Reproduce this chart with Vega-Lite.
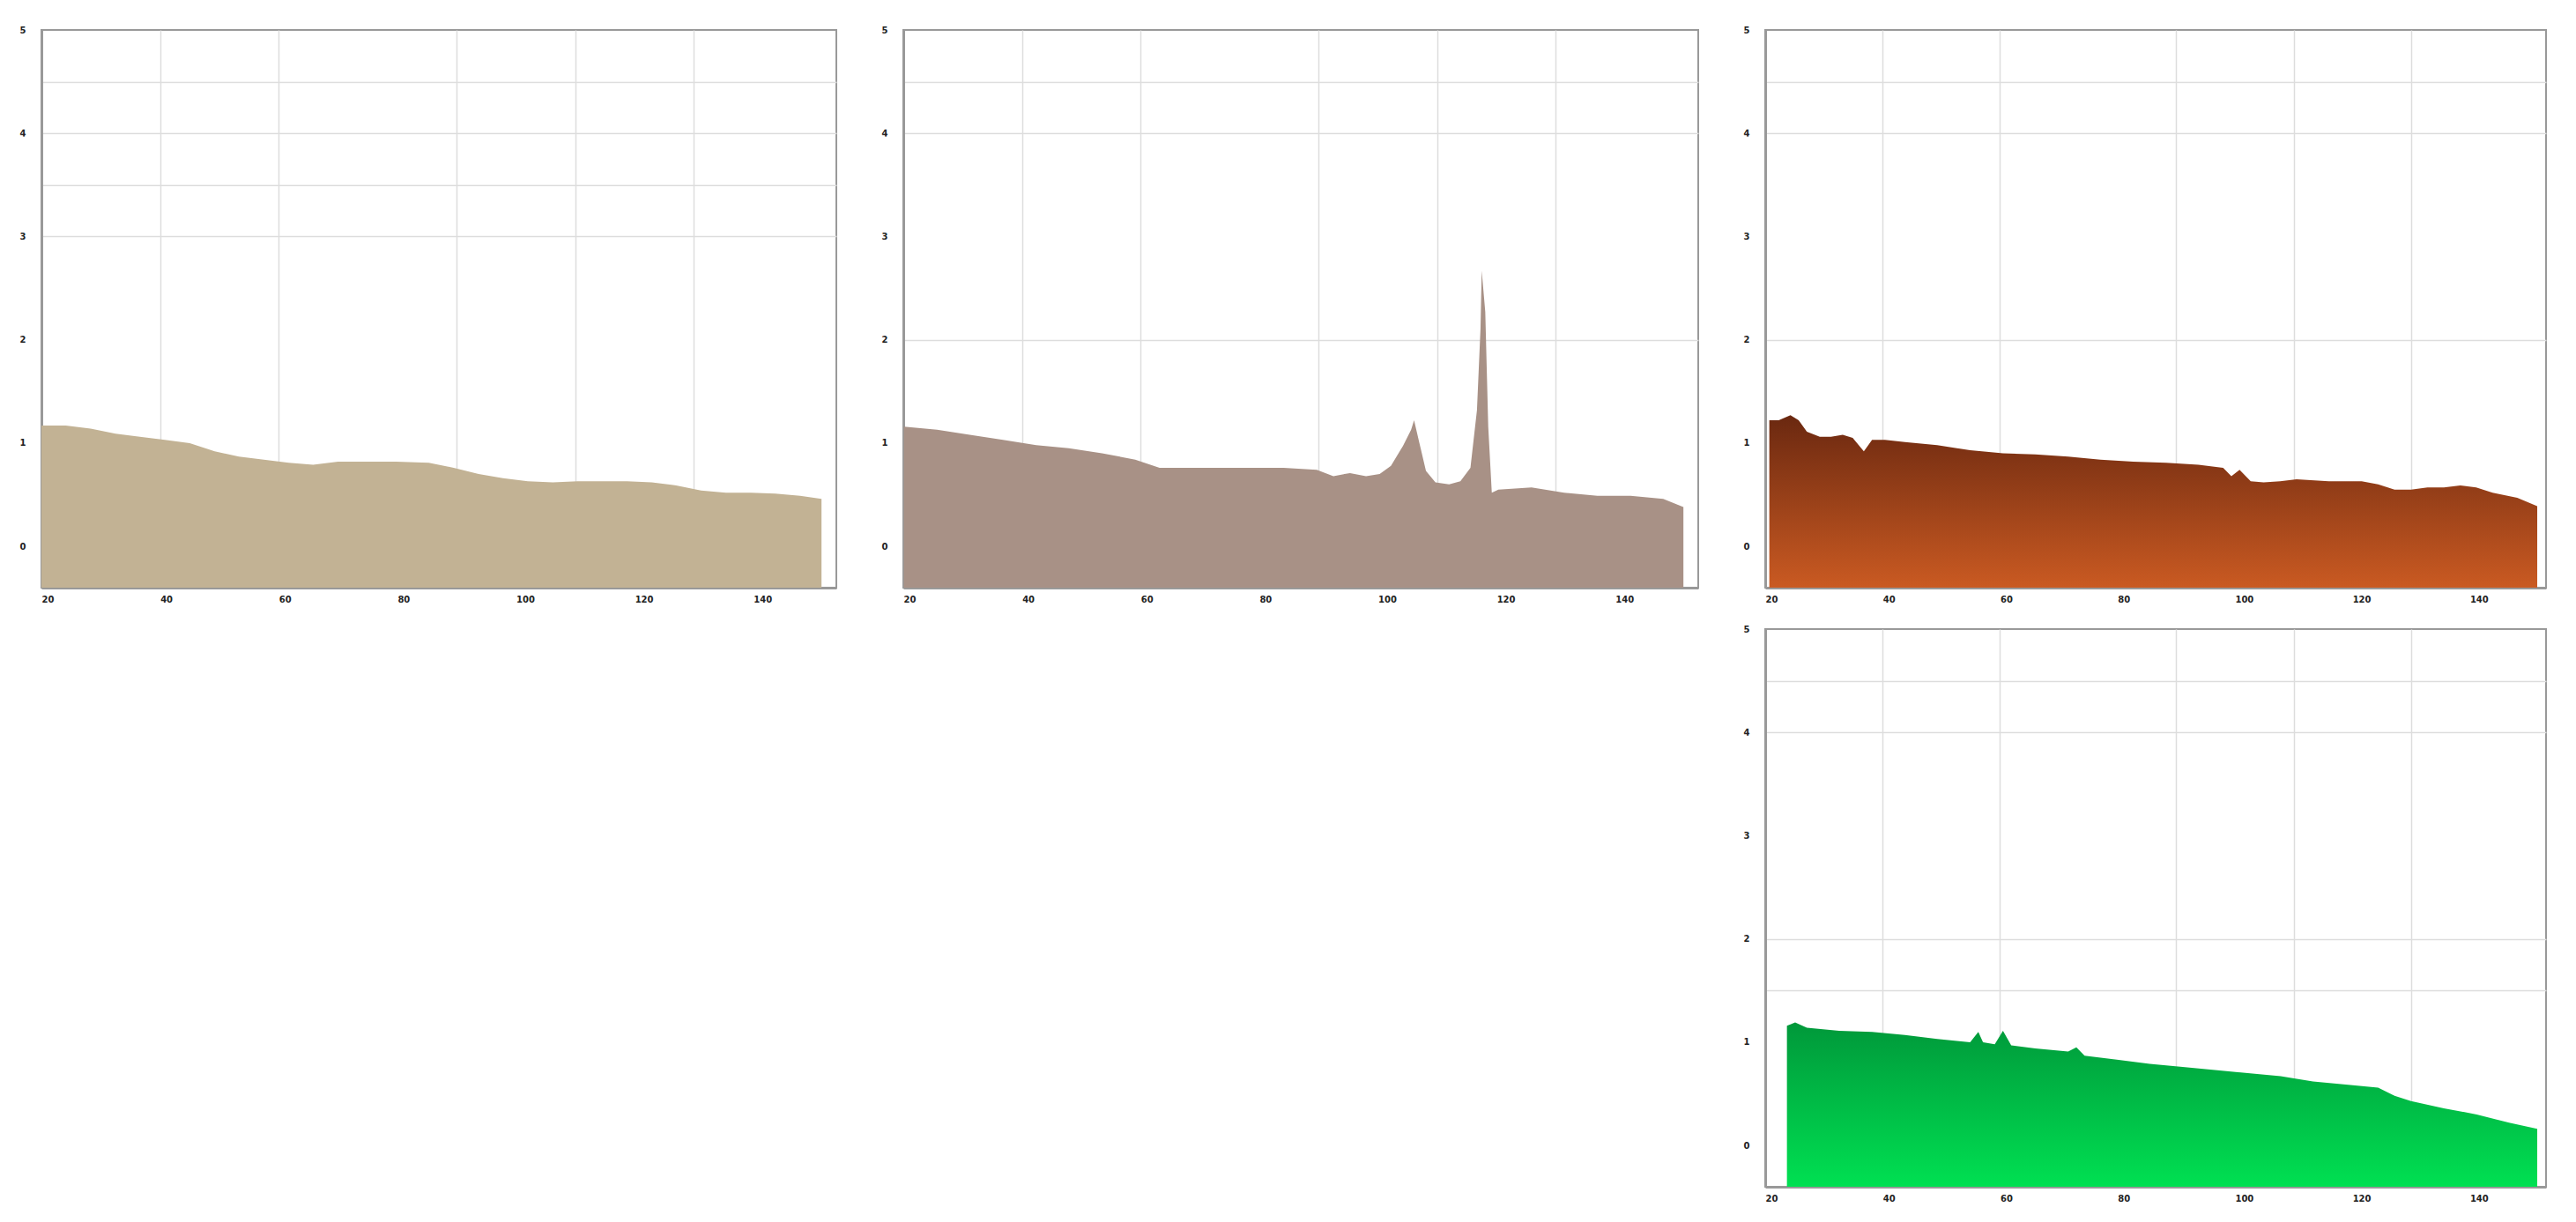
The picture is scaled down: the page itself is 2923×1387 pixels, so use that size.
{
  "$schema": "https://vega.github.io/schema/vega-lite/v6.json",
  "background": "white",
  "padding": {"left": 21, "top": 28, "right": 5, "bottom": 5},
  "bounds": "flush",
  "spacing": 76,
  "datasets": {
    "p1": [
      {"x": 20, "y": 1.17}, {"x": 24.1, "y": 1.17}, {"x": 28.3, "y": 1.14}, {"x": 32.5, "y": 1.09},
      {"x": 36.6, "y": 1.06}, {"x": 40.8, "y": 1.03}, {"x": 45.0, "y": 1.0}, {"x": 49.2, "y": 0.92},
      {"x": 53.3, "y": 0.87}, {"x": 57.5, "y": 0.84}, {"x": 61.7, "y": 0.81}, {"x": 65.8, "y": 0.79},
      {"x": 70.0, "y": 0.82}, {"x": 74.2, "y": 0.82}, {"x": 79.8, "y": 0.82}, {"x": 85.3, "y": 0.81},
      {"x": 89.5, "y": 0.76}, {"x": 93.7, "y": 0.7}, {"x": 97.8, "y": 0.66}, {"x": 102.0, "y": 0.63},
      {"x": 106.2, "y": 0.62}, {"x": 110.4, "y": 0.63}, {"x": 114.5, "y": 0.63}, {"x": 118.7, "y": 0.63},
      {"x": 122.9, "y": 0.62}, {"x": 127.0, "y": 0.59}, {"x": 131.2, "y": 0.54}, {"x": 135.4, "y": 0.52},
      {"x": 139.6, "y": 0.52}, {"x": 143.7, "y": 0.51}, {"x": 147.9, "y": 0.49}, {"x": 151.5, "y": 0.46}
    ],
    "p2": [
      {"x": 20.1, "y": 1.16}, {"x": 25.7, "y": 1.13}, {"x": 31.2, "y": 1.08}, {"x": 36.8, "y": 1.03},
      {"x": 42.4, "y": 0.98}, {"x": 47.9, "y": 0.95}, {"x": 53.5, "y": 0.9}, {"x": 59.1, "y": 0.84},
      {"x": 63.2, "y": 0.76}, {"x": 67.4, "y": 0.76}, {"x": 73.0, "y": 0.76}, {"x": 78.5, "y": 0.76},
      {"x": 84.1, "y": 0.76}, {"x": 89.7, "y": 0.74}, {"x": 92.5, "y": 0.68}, {"x": 95.3, "y": 0.71},
      {"x": 98.0, "y": 0.68}, {"x": 100.3, "y": 0.7}, {"x": 102.2, "y": 0.78}, {"x": 104.2, "y": 0.97},
      {"x": 105.6, "y": 1.13}, {"x": 106.1, "y": 1.22}, {"x": 107.0, "y": 1.0}, {"x": 108.1, "y": 0.73},
      {"x": 109.7, "y": 0.62}, {"x": 112.0, "y": 0.6}, {"x": 113.9, "y": 0.63}, {"x": 115.6, "y": 0.76},
      {"x": 116.7, "y": 1.32}, {"x": 117.3, "y": 2.11}, {"x": 117.5, "y": 2.67}, {"x": 118.1, "y": 2.27},
      {"x": 118.6, "y": 1.16}, {"x": 119.2, "y": 0.52}, {"x": 120.3, "y": 0.55}, {"x": 125.9, "y": 0.57},
      {"x": 131.4, "y": 0.52}, {"x": 137.0, "y": 0.49}, {"x": 142.6, "y": 0.49}, {"x": 148.1, "y": 0.46},
      {"x": 151.5, "y": 0.38}
    ],
    "p3": [
      {"x": 20.7, "y": 1.22}, {"x": 22.3, "y": 1.22}, {"x": 24.3, "y": 1.27}, {"x": 25.7, "y": 1.22},
      {"x": 27.1, "y": 1.11}, {"x": 29.3, "y": 1.06}, {"x": 31.2, "y": 1.06}, {"x": 33.2, "y": 1.08},
      {"x": 34.9, "y": 1.05}, {"x": 36.8, "y": 0.92}, {"x": 38.2, "y": 1.03}, {"x": 40.4, "y": 1.03},
      {"x": 43.8, "y": 1.01}, {"x": 49.3, "y": 0.98}, {"x": 54.9, "y": 0.93}, {"x": 60.5, "y": 0.9},
      {"x": 66.0, "y": 0.89}, {"x": 71.6, "y": 0.87}, {"x": 77.1, "y": 0.84}, {"x": 82.7, "y": 0.82},
      {"x": 88.3, "y": 0.81}, {"x": 93.8, "y": 0.79}, {"x": 98.0, "y": 0.76}, {"x": 99.4, "y": 0.68},
      {"x": 100.8, "y": 0.74}, {"x": 102.7, "y": 0.63}, {"x": 104.9, "y": 0.62}, {"x": 107.7, "y": 0.63},
      {"x": 110.5, "y": 0.65}, {"x": 116.0, "y": 0.63}, {"x": 121.6, "y": 0.63}, {"x": 124.4, "y": 0.6},
      {"x": 127.2, "y": 0.55}, {"x": 130.0, "y": 0.55}, {"x": 132.8, "y": 0.57}, {"x": 135.6, "y": 0.57},
      {"x": 138.4, "y": 0.59}, {"x": 141.1, "y": 0.57}, {"x": 143.9, "y": 0.52}, {"x": 148.1, "y": 0.47},
      {"x": 151.5, "y": 0.39}
    ],
    "p4": [
      {"x": 23.7, "y": 1.16}, {"x": 25.1, "y": 1.19}, {"x": 27.1, "y": 1.14}, {"x": 32.6, "y": 1.11},
      {"x": 38.2, "y": 1.1}, {"x": 43.8, "y": 1.07}, {"x": 49.3, "y": 1.03}, {"x": 54.9, "y": 1.0},
      {"x": 56.3, "y": 1.1}, {"x": 57.1, "y": 1.0}, {"x": 59.1, "y": 0.98}, {"x": 60.5, "y": 1.11},
      {"x": 61.9, "y": 0.97}, {"x": 66.0, "y": 0.94}, {"x": 71.6, "y": 0.91}, {"x": 73.0, "y": 0.95},
      {"x": 74.4, "y": 0.87}, {"x": 79.9, "y": 0.83}, {"x": 85.5, "y": 0.79}, {"x": 91.1, "y": 0.76},
      {"x": 96.6, "y": 0.73}, {"x": 102.2, "y": 0.7}, {"x": 107.8, "y": 0.67}, {"x": 113.3, "y": 0.62},
      {"x": 118.9, "y": 0.59}, {"x": 124.4, "y": 0.56}, {"x": 127.2, "y": 0.48}, {"x": 130.0, "y": 0.43},
      {"x": 135.6, "y": 0.36}, {"x": 141.2, "y": 0.3}, {"x": 146.7, "y": 0.22}, {"x": 151.5, "y": 0.16}
    ]
  },
  "hconcat": [
    {
      "width": 902, "height": 633,
      "data": {"name": "p1"},
      "mark": {"type": "area", "color": "#C2B294", "clip": true},
      "encoding": {
        "x": {"field": "x", "type": "quantitative", "scale": {"domain": [20, 154], "nice": false, "zero": false},
          "axis": {"values": [20, 40, 60, 80, 90, 100, 110, 120, 130, 140], "labelExpr": "datum.value % 20 === 0 ? datum.label : ''",
            "gridOpacity": {"condition": {"test": "indexof([40,60,90,110,130], datum.value) >= 0", "value": 1}, "value": 0}}},
        "y": {"field": "y", "type": "quantitative", "scale": {"domain": [-0.4, 5], "nice": false, "zero": false},
          "axis": {"values": [0, 1, 1.5, 2, 2.5, 3, 3.5, 4, 4.5, 5], "labelExpr": "datum.value % 1 === 0 ? format(datum.value, 'd') : ''",
            "gridOpacity": {"condition": {"test": "indexof([4.5,4,3.5,3], datum.value) >= 0", "value": 1}, "value": 0}}},
        "y2": {"datum": -0.4}
      }
    },
    {
      "width": 902, "height": 633,
      "data": {"name": "p2"},
      "mark": {"type": "area", "color": "#A89186", "clip": true},
      "encoding": {
        "x": {"field": "x", "type": "quantitative", "scale": {"domain": [20, 154], "nice": false, "zero": false},
          "axis": {"values": [20, 40, 60, 80, 90, 100, 110, 120, 130, 140], "labelExpr": "datum.value % 20 === 0 ? datum.label : ''",
            "gridOpacity": {"condition": {"test": "indexof([40,60,90,110,130], datum.value) >= 0", "value": 1}, "value": 0}}},
        "y": {"field": "y", "type": "quantitative", "scale": {"domain": [-0.4, 5], "nice": false, "zero": false},
          "axis": {"values": [0, 1, 1.5, 2, 2.5, 3, 3.5, 4, 4.5, 5], "labelExpr": "datum.value % 1 === 0 ? format(datum.value, 'd') : ''",
            "gridOpacity": {"condition": {"test": "indexof([4.5,4,2], datum.value) >= 0", "value": 1}, "value": 0}}},
        "y2": {"datum": -0.4}
      }
    },
    {
      "spacing": 47,
      "bounds": "flush",
      "vconcat": [
        {
          "width": 886, "height": 633,
          "data": {"name": "p3"},
          "mark": {"type": "area", "clip": true, "color": {"gradient": "linear", "x1": 0, "y1": 0, "x2": 0, "y2": 1,
            "stops": [{"offset": 0, "color": "#6A2810"}, {"offset": 1, "color": "#CA5A22"}]}},
          "encoding": {
            "x": {"field": "x", "type": "quantitative", "scale": {"domain": [20, 153], "nice": false, "zero": false},
              "axis": {"values": [20, 40, 60, 80, 90, 100, 110, 120, 130, 140], "labelExpr": "datum.value % 20 === 0 ? datum.label : ''",
                "gridOpacity": {"condition": {"test": "indexof([40,60,90,110,130], datum.value) >= 0", "value": 1}, "value": 0}}},
            "y": {"field": "y", "type": "quantitative", "scale": {"domain": [-0.4, 5], "nice": false, "zero": false},
              "axis": {"values": [0, 1, 1.5, 2, 2.5, 3, 3.5, 4, 4.5, 5], "labelExpr": "datum.value % 1 === 0 ? format(datum.value, 'd') : ''",
                "gridOpacity": {"condition": {"test": "indexof([4.5,4,2], datum.value) >= 0", "value": 1}, "value": 0}}},
            "y2": {"datum": -0.4}
          }
        },
        {
          "width": 886, "height": 633,
          "data": {"name": "p4"},
          "mark": {"type": "area", "clip": true, "color": {"gradient": "linear", "x1": 0, "y1": 0, "x2": 0, "y2": 1,
            "stops": [{"offset": 0, "color": "#00983A"}, {"offset": 1, "color": "#00E052"}]}},
          "encoding": {
            "x": {"field": "x", "type": "quantitative", "scale": {"domain": [20, 153], "nice": false, "zero": false},
              "axis": {"values": [20, 40, 60, 80, 90, 100, 110, 120, 130, 140], "labelExpr": "datum.value % 20 === 0 ? datum.label : ''",
                "gridOpacity": {"condition": {"test": "indexof([40,60,90,110,130], datum.value) >= 0", "value": 1}, "value": 0}}},
            "y": {"field": "y", "type": "quantitative", "scale": {"domain": [-0.4, 5], "nice": false, "zero": false},
              "axis": {"values": [0, 1, 1.5, 2, 2.5, 3, 3.5, 4, 4.5, 5], "labelExpr": "datum.value % 1 === 0 ? format(datum.value, 'd') : ''",
                "gridOpacity": {"condition": {"test": "indexof([4.5,4,2,1.5], datum.value) >= 0", "value": 1}, "value": 0}}},
            "y2": {"datum": -0.4}
          }
        }
      ]
    }
  ],
  "config": {
    "view": {"stroke": "#999", "strokeWidth": 2},
    "axis": {"title": null, "domainColor": "#999", "domainWidth": 3, "gridColor": "#dddddd", "gridWidth": 1.5,
      "ticks": false, "labelFont": "DejaVu Sans", "labelFontSize": 10, "labelFontWeight": "bold", "labelColor": "#222"},
    "axisX": {"labelPadding": 8, "labelAlign": "left", "labelFlush": false},
    "axisY": {"labelPadding": 18}
  }
}
